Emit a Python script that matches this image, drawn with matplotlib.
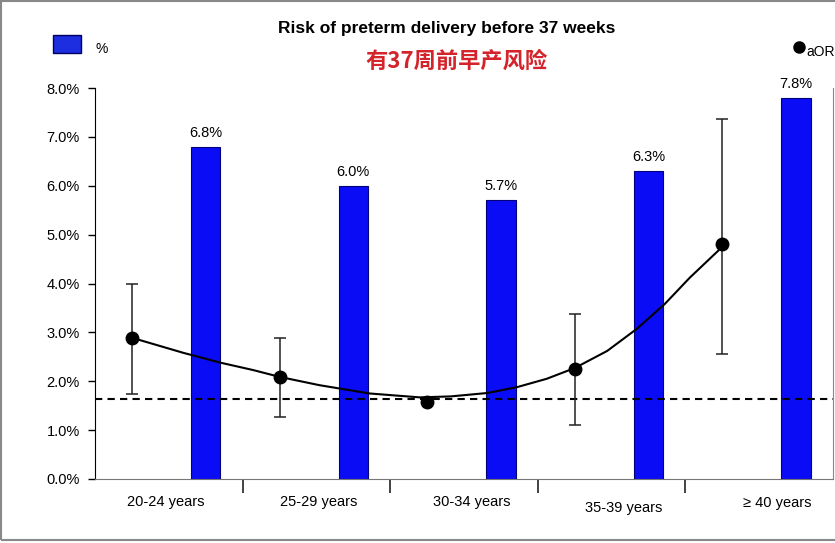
import matplotlib
matplotlib.use('Agg')
import matplotlib.pyplot as plt
import numpy as np
from matplotlib.patches import Rectangle
from matplotlib import transforms

# ---------------- data ----------------
categories = ['20-24 years', '25-29 years', '30-34 years', '35-39 years', '\u2265 40 years']
pct = [6.8, 6.0, 5.7, 6.3, 7.8]
pct_labels = ['6.8%', '6.0%', '5.7%', '6.3%', '7.8%']
aor = [2.89, 2.09, 1.58, 2.25, 4.80]
aor_hi = [3.98, 2.88, np.nan, 3.37, 7.36]
aor_lo = [1.74, 1.27, np.nan, 1.10, 2.56]
ref_line = 1.64
trend_x = [-0.25, 0.10, 0.35, 0.57, 0.75, 1.02, 1.36, 1.70, 1.91, 2.16, 2.36,
           2.56, 2.75, 2.97, 3.17, 3.36, 3.53, 3.75]
trend_y = [2.89, 2.58, 2.38, 2.23, 2.09, 1.92, 1.75, 1.67, 1.69, 1.76, 1.88,
           2.05, 2.27, 2.62, 3.07, 3.58, 4.12, 4.75]
yticks = [0, 1, 2, 3, 4, 5, 6, 7, 8]
ytick_labels = ['0.0%', '1.0%', '2.0%', '3.0%', '4.0%', '5.0%', '6.0%', '7.0%', '8.0%']
title = 'Risk of preterm delivery before 37 weeks'
subtitle = '有37周前早产风险'

plt.rcParams['font.family'] = ['Liberation Sans', 'DejaVu Sans']

W, H = 835, 543
fig = plt.figure(figsize=(W / 100, H / 100), dpi=100)
fig.patch.set_facecolor('white')

def fx(px):
    return px / W

def fy(py):
    return 1 - py / H

ax = fig.add_axes([fx(95), fy(479), fx(833) - fx(95), fy(88) - fy(479)])
n = len(categories)
x = np.arange(n)

# bars
ax.bar(x + 0.25, pct, width=0.2, color='#0a0cf5', edgecolor='#00007a', linewidth=0.8, zorder=2)
for xi, v, lab in zip(x, pct, pct_labels):
    ax.annotate(lab, (xi + 0.25, v), xytext=(0, 5), textcoords='offset points',
                ha='center', va='bottom', fontsize=10.5, color='black')

# reference dashed line
ax.axhline(ref_line, color='black', linestyle=(0, (3.5, 2.5)), linewidth=1.5, zorder=3)

# trend curve
ax.plot(trend_x, trend_y, color='black', linewidth=1.5, zorder=4,
        solid_joinstyle='round')

# error bars
px = x - 0.25
hi = np.array(aor_hi)
lo = np.array(aor_lo)
a = np.array(aor)
m = ~np.isnan(hi)
ax.errorbar(px[m], a[m], yerr=[a[m] - lo[m], hi[m] - a[m]], fmt='none',
            ecolor='#222222', elinewidth=1.1, capsize=4, capthick=1.1, zorder=4)
ax.plot(px, a, 'o', color='black', markersize=9, zorder=5)

ax.set_xlim(-0.5, n - 0.5)
ax.set_ylim(0, 8)
ax.set_yticks(yticks)
ax.set_yticklabels(ytick_labels, fontsize=10.5)
ax.tick_params(axis='y', direction='out', length=5, width=1, pad=6)

ax.set_xticks(np.arange(n - 1) + 0.5)
ax.set_xticklabels([])
ax.tick_params(axis='x', direction='out', length=10, width=1.2, color='#222222')

ax.spines['top'].set_visible(False)
ax.spines['left'].set_color('black')
ax.spines['bottom'].set_color('#777777')
ax.spines['right'].set_color('#888888')

trans = transforms.blended_transform_factory(ax.transData, fig.transFigure)
label_dy = [0, 0, 0, 6, 1]
for xi, c, dy in zip(x, categories, label_dy):
    ax.text(xi - 0.02 + 0.035 * xi, fy(502 + dy), c, transform=trans,
            ha='center', va='center', fontsize=10.5)

# titles
fig.text(fx(447), fy(28), title, ha='center', va='center', fontsize=12.5, fontweight='bold')
fig.text(fx(456), fy(61), subtitle, ha='center', va='center', fontsize=16,
         fontweight='bold', color='#d4232a',
         family=['Noto Sans CJK SC', 'DejaVu Sans'])

# legend
fig.add_artist(Rectangle((fx(53), fy(53)), fx(81) - fx(53), fy(35) - fy(53),
                         transform=fig.transFigure, facecolor='#1c2ee0',
                         edgecolor='#000060', linewidth=1))
fig.text(fx(96), fy(49), '%', ha='left', va='center', fontsize=10)
fig.add_artist(plt.Line2D([fx(799)], [fy(47)], marker='o', color='black',
                          markersize=8, transform=fig.transFigure))
fig.text(fx(806), fy(52), 'aOR', ha='left', va='center', fontsize=10)

# chart-area border
fig.add_artist(Rectangle((fx(1), fy(540)), fx(840) - fx(1), fy(1) - fy(540),
                         transform=fig.transFigure, facecolor='none',
                         edgecolor='#888888', linewidth=1.5))

fig.savefig('out.png', dpi=100)
